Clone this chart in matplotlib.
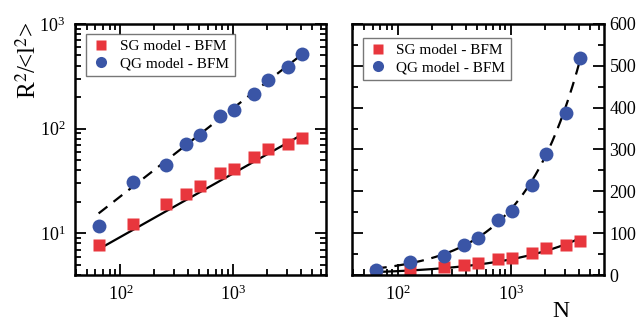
import numpy as np
import matplotlib.pyplot as plt
from matplotlib.ticker import MultipleLocator

plt.rcParams['font.family'] = ['Liberation Serif', 'DejaVu Serif']
plt.rcParams['mathtext.fontset'] = 'stix'

# chain lengths
N = [64, 128, 256, 384, 512, 768, 1024, 1536, 2048, 3072, 4096]
# R^2/<l^2>
sg = [7.7, 12.3, 19.0, 24.0, 28.6, 37.7, 41.1, 53.5, 63.7, 71.4, 81.5]
qg = [11.7, 30.7, 44.9, 71.4, 87.7, 132, 152, 216, 290, 388, 519]

# power law fits  a * (N/64)^nu
sg_fit = (7.05, 0.606)
qg_fit = (15.5, 0.841)

red = '#e8363d'
blue = '#3a55a6'

fig = plt.figure(figsize=(6.38, 3.21), dpi=100)
ax1 = fig.add_axes([0.1176, 0.1433, 0.3934, 0.782])
ax2 = fig.add_axes([0.5517, 0.1433, 0.395, 0.782])

nn = np.geomspace(N[0], N[-1], 200)

for ax, anchor in ((ax1, (0.044, 0.962)), (ax2, (0.042, 0.946))):
    ax.plot(nn, sg_fit[0] * (nn / 64) ** sg_fit[1], color='black', lw=1.6, zorder=1)
    ax.plot(nn, qg_fit[0] * (nn / 64) ** qg_fit[1], color='black', lw=1.6,
            ls=(0, (5, 3.5)), zorder=1)
    ax.plot(N, sg, 's', color=red, ms=8.5, mec='none', label='SG model - BFM', zorder=2)
    ax.plot(N, qg, 'o', color=blue, ms=10, mec='none', label='QG model - BFM', zorder=2)
    ax.set_xscale('log')
    ax.set_xlim(39.5, 6700)
    ax.tick_params(which='both', direction='in', top=True, right=True,
                   labelsize=13, width=1.3)
    ax.tick_params(which='major', length=8, pad=7)
    ax.tick_params(which='minor', length=4.5)
    for s in ax.spines.values():
        s.set_linewidth(1.8)
    leg = ax.legend(loc='upper left', numpoints=1, fontsize=11, fancybox=False,
                    edgecolor='#555555', handletextpad=0.6, borderpad=0.4,
                    labelspacing=0.2, handlelength=1.2, markerscale=0.8,
                    borderaxespad=0, bbox_to_anchor=anchor)
    leg.get_frame().set_linewidth(1.0)

ax1.set_yscale('log')
ax1.set_ylim(4, 1000)
fig.text(28 / 638, 1 - 60 / 321, r'R$^2$/<l$^2$>', fontsize=18, rotation=90,
         ha='center', va='center')

ax2.set_ylim(0, 600)
ax2.yaxis.set_major_locator(MultipleLocator(100))
ax2.yaxis.set_minor_locator(MultipleLocator(50))
ax2.tick_params(which='major', axis='y', pad=4)
ax2.tick_params(labelleft=False, labelright=True)
ax2.set_xlabel('N', fontsize=17, labelpad=0)
ax2.xaxis.set_label_coords(0.83, -0.105)

fig.savefig('out.png', dpi=100)
